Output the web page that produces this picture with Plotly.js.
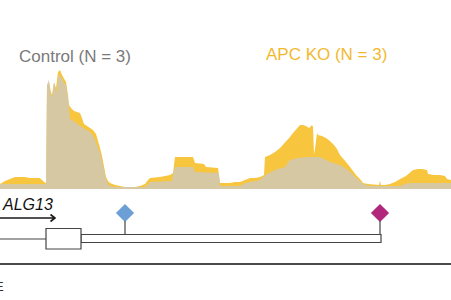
<!DOCTYPE html>
<html><head><meta charset="utf-8">
<script src="https://cdn.plot.ly/plotly-3.0.1.min.js"></script>
<style>html,body{margin:0;padding:0;background:#fff}#c{width:451px;height:300px}</style>
</head><body><div id="c"></div>
<script>
// Coverage track positions and signal heights
const koX = [0,5,10,15,20,25,30,35,40,44,46,47,49,51,52,54,56,58,60,62,64,66,68,69,71,74,77,80,82,84,87,90,93,96,98,100,102,104,106,108,110,115,120,125,130,135,140,145,148,150,160,170,173,175,193,195,204,206,218,220,225,230,235,240,245,250,255,260,264,265,270,275,280,285,290,293,296,298,300,303,306,309,312,313,314,315,317,318,322,326,330,334,337,340,343,346,350,353,356,360,363,368,375,379,380,381,385,390,395,398,402,406,410,413,418,422,427,428,434,440,445,447,451];
const koY = [5,8,10,12,12,12,11,11,11,7,6,104,107,97,94,107,101,117,119,114,111,107,94,84,81,78,77,76,71,65,63,61,59,55,49,41,33,23,12,8,6,4,3,2,2,2,3,5,9,11,12,14,16,32,32,26,25,22,21,6,6,6,7,7,9,11,11,12,14,32,34,37,41,46,52,56,59,62,64,64,63,61,64,62,35,40,56,54,53,51,48,44,40,34,30,27,22,18,14,10,6,5,4,4,8,4,4,5,7,9,11,13,16,19,20,20,19,15,14,14,13,10,9];
const ctrlX = [0,46,47,48,49,50,51,52,53,54,55,56,57,58,60,62,64,66,68,69,70,75,80,85,90,93,96,98,100,102,104,106,108,110,115,145,148,150,172,173,175,193,195,219,220,240,245,255,260,265,275,285,290,298,305,310,320,330,340,345,350,354,358,363,370,400,405,410,440,451];
const ctrlY = [5,5,104,108,110,100,93,92,100,106,104,97,100,112,114,110,106,104,92,80,70,67,63,60,57,53,47,41,36,28,19,10,5,3,2,2,5,7,8,15,22,22,17,16,3,3,6,8,9,14,19,22,29,31,32,32,32,27,24,21,17,13,9,5,3,3,5,6,6,6];
const seriesNames = ["Control (N = 3)", "APC KO (N = 3)"];
// Gene model
const geneName = "ALG13";
const exonStart = 46, exonEnd = 81;
const utrStart = 81, utrEnd = 381;
const variantX = [125, 380];
const variantColors = ["#6b9fd6", "#b0277b"];

const traces = [
  {x: koX, y: koY, type: 'scatter', mode: 'lines', fill: 'tozeroy',
   fillcolor: 'rgb(247,197,62)', line: {width: 0, color: 'rgb(247,197,62)'}, hoverinfo: 'skip', xaxis: 'x', yaxis: 'y'},
  {x: ctrlX, y: ctrlY, type: 'scatter', mode: 'lines', fill: 'tozeroy',
   fillcolor: 'rgba(202,201,199,0.74)', line: {width: 0}, hoverinfo: 'skip', xaxis: 'x', yaxis: 'y'},
  {x: variantX, y: [213, 213], type: 'scatter', mode: 'markers', xaxis: 'x', yaxis: 'y2',
   marker: {symbol: 'diamond', size: 14, color: variantColors, line: {width: 0}}, hoverinfo: 'skip'}
];

const lc = '#444';
const shapes = [
  {type: 'line', xref: 'x', yref: 'y2', x0: -5, x1: exonStart, y0: 239, y1: 239, line: {color: lc, width: 1.2}},
  {type: 'rect', xref: 'x', yref: 'y2', x0: utrStart, x1: utrEnd, y0: 234.5, y1: 242.5, line: {color: lc, width: 1.2}, fillcolor: '#fff'},
  {type: 'rect', xref: 'x', yref: 'y2', x0: exonStart, x1: exonEnd, y0: 228.5, y1: 249, line: {color: lc, width: 1.2}, fillcolor: '#fff'},
  {type: 'line', xref: 'x', yref: 'y2', x0: variantX[0], x1: variantX[0], y0: 221, y1: 234.5, line: {color: lc, width: 1.2}},
  {type: 'line', xref: 'x', yref: 'y2', x0: variantX[1], x1: variantX[1], y0: 221, y1: 234.5, line: {color: lc, width: 1.2}},
  {type: 'path', xref: 'x', yref: 'y2', path: 'M -3 218 L 55 218 M 50.5 214.5 L 55 218 L 50.5 221.5', line: {color: '#1a1a1a', width: 1.6}},
  {type: 'line', xref: 'paper', yref: 'y2', x0: 0, x1: 1, y0: 264, y1: 264, line: {color: '#4a4a4a', width: 2}}
];

const annotations = [
  {text: seriesNames[0], x: 74.5, y: 56, xref: 'x', yref: 'y2', showarrow: false,
   font: {family: 'Liberation Sans, Arial, sans-serif', size: 17, color: '#7a7a7a'}, xanchor: 'center', yanchor: 'middle'},
  {text: seriesNames[1], x: 326.5, y: 54, xref: 'x', yref: 'y2', showarrow: false,
   font: {family: 'Liberation Sans, Arial, sans-serif', size: 17, color: '#f2b92f'}, xanchor: 'center', yanchor: 'middle'},
  {text: '<i>' + geneName + '</i>', x: 0, y: 204.5, xref: 'x', yref: 'y2', showarrow: false,
   font: {family: 'Liberation Sans, Arial, sans-serif', size: 16, color: '#111'}, xanchor: 'left', yanchor: 'middle'},
  {text: 'E', x: 6, y: 286, xref: 'x', yref: 'y2', showarrow: false,
   font: {family: 'Liberation Sans, Arial, sans-serif', size: 13, color: '#333'}, xanchor: 'right', yanchor: 'middle'}
];

const layout = {
  width: 451, height: 300,
  margin: {l: 0, r: 0, t: 0, b: 0, pad: 0},
  paper_bgcolor: '#fff', plot_bgcolor: 'rgba(0,0,0,0)',
  showlegend: false,
  xaxis: {range: [0, 451], visible: false, fixedrange: true},
  yaxis: {domain: [0.37, 1], range: [0, 189], visible: false, fixedrange: true},
  yaxis2: {domain: [0, 1], range: [300, 0], visible: false, fixedrange: true, anchor: 'x'},
  shapes: shapes,
  annotations: annotations
};
Plotly.newPlot('c', traces, layout, {staticPlot: true, displayModeBar: false});
</script></body></html>
